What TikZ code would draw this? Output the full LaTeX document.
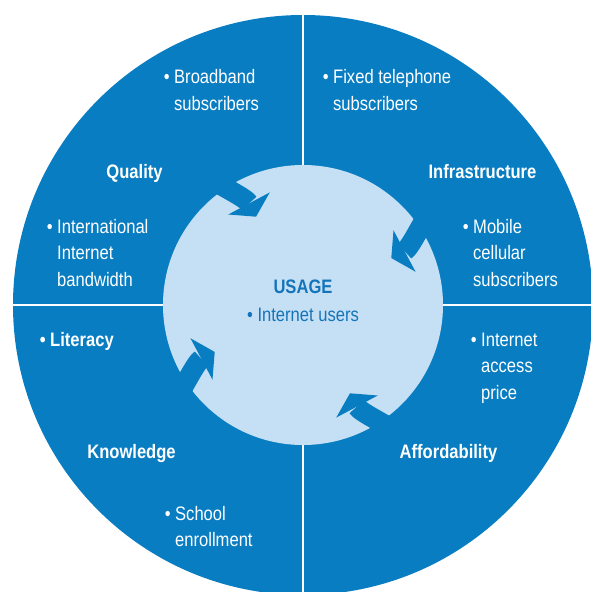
\documentclass[tikz,border=0pt]{standalone}
\usepackage{fontspec}
\setmainfont{Liberation Sans}[FakeStretch=0.85]
\usetikzlibrary{arrows.meta}
\definecolor{ring}{RGB}{8,125,194}
\definecolor{usage}{RGB}{197,224,244}
\definecolor{usagetext}{RGB}{20,116,186}
\newcommand\bul{\textbullet\ }
\newcommand\ind{\phantom{\textbullet\ }}

\begin{document}
\begin{tikzpicture}[x=1pt, y=1pt]
            \tikzstyle{every node} = [text=white, inner sep=0pt, align=left,
                font=\fontsize{19.5}{26.5}\selectfont]
            \tikzstyle{heading} = [anchor=base, font=\fontsize{19.5}{26.5}\selectfont\bfseries]
            \tikzstyle{item} = [anchor=base west]
            \tikzstyle{cycle} = [ring, line width=20pt,
                -{Triangle[length=15pt, width=47pt, line width=0pt]}]
            \useasboundingbox (-303, -287) rectangle (288, 305);

            \fill[ring] (0, 0) circle (290);
            \draw[white, line width=2.5pt] (0, -290) -- (0, 290);
            \draw[white, line width=2.5pt] (-290, 0) -- (290, 0);
            \fill[usage] (0, 0) circle (140);

            \foreach \r [count=\i] in {0, -90, -180, -270} {
                \pgfmathsetmacro\startangle{129 + \r}
                \pgfmathsetmacro\outangle{-33 + \r}
                \pgfmathsetmacro\tipangle{118 + \r}
                \coordinate (from\i) at (\startangle:176);
                \coordinate (tip\i) at (\tipangle:100);
                \draw[cycle] (from\i) to[out=\outangle, in=\tipangle,
                    out distance=30pt, in distance=22pt] (tip\i);
            }

            \node[item] (broadband) at (-139.4, 194.5) {\bul Broadband\\\ind subscribers};
            \node[heading] (quality) at (-168.5, 127) {Quality};
            \node[item] (bandwidth) at (-256.4, 19)
                {\bul International\\\ind Internet\\\ind bandwidth};

            \node[item] (fixed) at (19.6, 194.5) {\bul Fixed telephone\\\ind subscribers};
            \node[heading] (infrastructure) at (179.5, 127) {Infrastructure};
            \node[item] (mobile) at (159.6, 19)
                {\bul Mobile\\\ind cellular\\\ind subscribers};

            \node[item, font=\fontsize{19.5}{26.5}\selectfont\bfseries] (literacy)
                at (-263.4, -41) {\bul Literacy};
            \node[heading] (knowledge) at (-171.5, -153) {Knowledge};
            \node[item] (school) at (-138.4, -241.5) {\bul School\\\ind enrollment};

            \node[item] (price) at (167.6, -94) {\bul Internet\\\ind access\\\ind price};
            \node[heading] (affordability) at (145.5, -153) {Affordability};

            \node[heading, text=usagetext] (usagetitle) at (0, 12) {USAGE};
            \node[anchor=base, text=usagetext] (users) at (0, -16) {\bul Internet users};
        \end{tikzpicture}
\end{document}
